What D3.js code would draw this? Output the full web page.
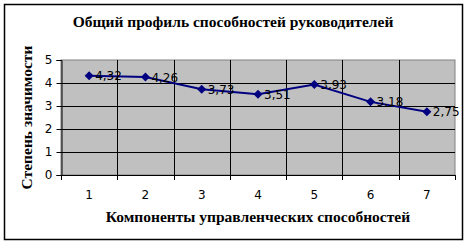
<!DOCTYPE html>
<html><head><meta charset="utf-8">
<script src="https://cdn.jsdelivr.net/npm/d3@7"></script>
<style>body{margin:0;background:#fff}svg{display:block}</style>
</head><body>
<script>
const categories = ["1","2","3","4","5","6","7"];
const values = [4.32, 4.26, 3.73, 3.51, 3.93, 3.18, 2.75];
const valueLabels = ["4,32","4,26","3,73","3,51","3,93","3,18","2,75"];
const yTicks = [0,1,2,3,4,5];

const W = 466, H = 244;
const m = {l:61, t:60, r:455, b:175};
const svg = d3.select("body").append("svg").attr("width",W).attr("height",H);

svg.append("rect").attr("x",4.5).attr("y",4.5).attr("width",458).attr("height",235)
  .attr("fill","#fff").attr("stroke","#000").attr("stroke-width",1.5);

const x = d3.scaleBand().domain(categories).range([m.l,m.r]);
const y = d3.scaleLinear().domain([0,5]).range([m.b,m.t]);

svg.append("rect").attr("x",m.l).attr("y",m.t).attr("width",m.r-m.l).attr("height",m.b-m.t)
  .attr("fill","#c0c0c0").attr("stroke","#808080").attr("stroke-width",1);

svg.append("g").selectAll("line").data(yTicks.filter(d=>d>0&&d<5)).join("line")
  .attr("x1",m.l).attr("x2",m.r).attr("y1",d=>Math.round(y(d))+0.5).attr("y2",d=>Math.round(y(d))+0.5)
  .attr("stroke","#000");
const bounds = categories.slice(1).map(c=>x(c));
svg.append("g").selectAll("line").data(bounds).join("line")
  .attr("x1",d=>Math.round(d)+0.5).attr("x2",d=>Math.round(d)+0.5).attr("y1",m.t).attr("y2",m.b)
  .attr("stroke","#000");

const yAxis = d3.axisLeft(y).tickValues(yTicks).tickFormat(d3.format("d")).tickSize(5).tickPadding(4);
const gy = svg.append("g").attr("transform",`translate(${m.l+0.5},0)`).call(yAxis);
const xAxis = d3.axisBottom(x).tickSize(0).tickPadding(15);
const gx = svg.append("g").attr("transform",`translate(0,${m.b+0.5})`).call(xAxis);
gx.select(".domain").remove();
svg.append("line").attr("x1",m.l).attr("x2",m.r+0.5).attr("y1",m.b+0.5).attr("y2",m.b+0.5).attr("stroke","#000");
svg.append("g").selectAll("line").data([m.l, ...bounds, m.r]).join("line")
  .attr("x1",d=>Math.round(d)+0.5).attr("x2",d=>Math.round(d)+0.5).attr("y1",m.b).attr("y2",m.b+5)
  .attr("stroke","#000");
gy.select(".domain").attr("stroke","#000");
[gx,gy].forEach(g=>g.selectAll("text").attr("font-family","DejaVu Sans").attr("font-size",12).attr("fill","#000"));

const cx = c => x(c)+x.bandwidth()/2;
svg.append("path").datum(values)
  .attr("d", d3.line().x((d,i)=>cx(categories[i])).y(d=>y(d)))
  .attr("fill","none").attr("stroke","#000080").attr("stroke-width",2);
svg.append("g").selectAll("path").data(values).join("path")
  .attr("transform",(d,i)=>`translate(${cx(categories[i])},${y(d)})`)
  .attr("d","M0,-4.5L4.5,0L0,4.5L-4.5,0Z").attr("fill","#000080");
svg.append("g").selectAll("text").data(values).join("text")
  .attr("x",(d,i)=>cx(categories[i])+6).attr("y",d=>y(d)+4.5)
  .attr("font-family","DejaVu Sans").attr("font-size",12).attr("fill","#000")
  .text((d,i)=>valueLabels[i]);

const tf = "Liberation Serif", ts = 15.5;
svg.append("text").attr("x",233).attr("y",27).attr("text-anchor","middle")
  .attr("font-family",tf).attr("font-weight","bold").attr("font-size",ts)
  .text("Общий профиль способностей руководителей");
svg.append("text").attr("x",258).attr("y",222).attr("text-anchor","middle")
  .attr("font-family",tf).attr("font-weight","bold").attr("font-size",ts)
  .text("Компоненты управленческих способностей");
svg.append("text").attr("transform",`translate(32,${(m.t+m.b)/2}) rotate(-90)`).attr("text-anchor","middle")
  .attr("font-family",tf).attr("font-weight","bold").attr("font-size",ts)
  .text("Степень значимости");
</script>
</body></html>
